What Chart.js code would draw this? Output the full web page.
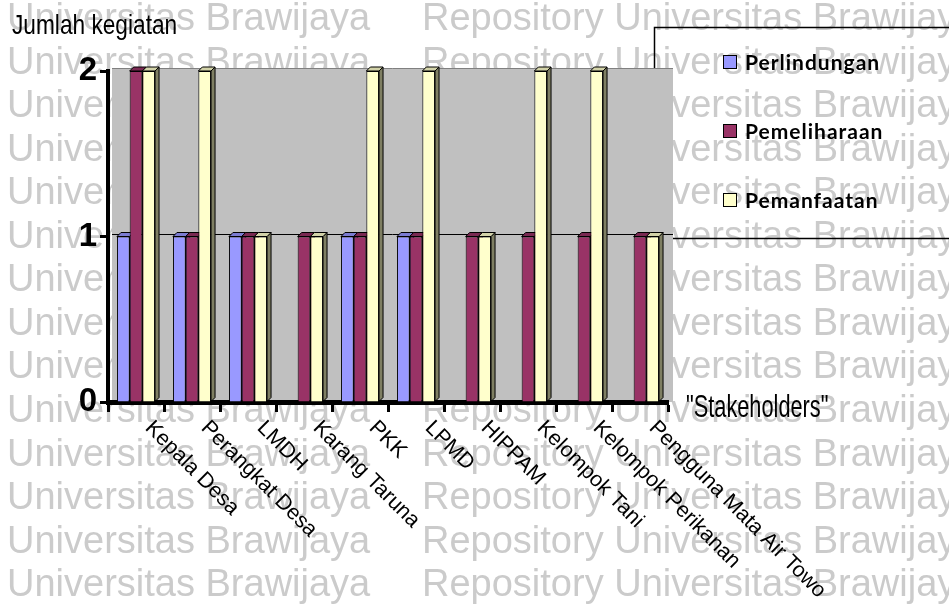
<!DOCTYPE html>
<html>
<head>
<meta charset="utf-8">
<script src="https://cdn.jsdelivr.net/npm/chart.js@4.4.0/dist/chart.umd.min.js"></script>
<style>
  html, body { margin: 0; padding: 0; background: #fff; }
  #wrap { position: relative; width: 949px; height: 608px; }
</style>
</head>
<body>
<div id="wrap"><canvas id="kegiatanChart"></canvas></div>
<script>
const stakeholders = ['Kepala Desa', 'Perangkat Desa', 'LMDH', 'Karang Taruna', 'PKK', 'LPMD',
  'HIPPAM', 'Kelompok Tani', 'Kelompok Perikanan', 'Pengguna Mata Air Towo'];
const perlindungan = [1, 1, 1, 0, 1, 1, 0, 0, 0, 0];
const pemeliharaan = [2, 1, 1, 1, 1, 1, 1, 1, 1, 1];
const pemanfaatan = [2, 2, 1, 1, 2, 2, 1, 2, 2, 1];
const yTicks = [0, 1, 2];

const yTitle = 'Jumlah kegiatan';
const xTitle = '"Stakeholders"';

// 3d look of the old excel chart
const depth = 4;
const topColors = ['#7b7bd1', '#7a2952', '#d2d2a8'];
const sideColors = ['#5c5c9e', '#5a1e3c', '#7f7f63'];
const arial = '"Liberation Sans", Arial, sans-serif';

// no narrow font installed, so squeeze the regular one
function narrowText(ctx, text, x, y, size, squeeze) {
  ctx.save();
  ctx.translate(x, y);
  ctx.scale(squeeze, 1);
  ctx.font = size + 'px ' + arial;
  ctx.fillText(text, 0, 0);
  ctx.restore();
}

const backdrop = {
  id: 'backdrop',
  beforeDraw(chart) {
    const { ctx, chartArea: a, scales: { y } } = chart;
    ctx.save();
    // faint repository watermark
    ctx.font = '38px ' + arial;
    ctx.fillStyle = '#cbcbcb';
    ctx.textBaseline = 'alphabetic';
    for (let k = 0; k < 14; k++) {
      const by = 30 + k * 43.55;
      ctx.fillText('Universitas Brawijaya', 7, by);
      ctx.fillText('Repository Universitas Brawijaya', 422, by);
    }
    // legend frame sits behind the plot wall
    ctx.strokeStyle = '#000';
    ctx.lineWidth = 1.5;
    ctx.strokeRect(654.5, 27.5, 330, 211);

    // back wall
    ctx.fillStyle = '#c0c0c0';
    ctx.fillRect(a.left + depth, a.top - 3, a.width + 1, a.height + 3);
    yTicks.forEach(v => {
      if (v === 0) return;
      const py = Math.round(y.getPixelForValue(v)) - 3 + 0.5;
      ctx.strokeStyle = v === yTicks[yTicks.length - 1] ? '#808080' : '#000';
      ctx.lineWidth = 1;
      ctx.beginPath();
      ctx.moveTo(a.left + depth, py);
      ctx.lineTo(a.right + depth + 1, py);
      ctx.stroke();
    });

    // top and side faces of the bars
    ctx.lineWidth = 1;
    ctx.strokeStyle = '#000';
    chart.data.datasets.forEach((ds, di) => {
      chart.getDatasetMeta(di).data.forEach((el, i) => {
        if (!ds.data[i]) return;
        const x0 = el.x - el.width / 2, x1 = el.x + el.width / 2;
        const yt = el.y, yb = el.base;
        ctx.fillStyle = sideColors[di];
        ctx.beginPath();
        ctx.moveTo(x1, yt);
        ctx.lineTo(x1 + depth, yt - depth);
        ctx.lineTo(x1 + depth, yb - depth);
        ctx.lineTo(x1, yb);
        ctx.closePath();
        ctx.fill();
        ctx.stroke();
        ctx.fillStyle = topColors[di];
        ctx.beginPath();
        ctx.moveTo(x0, yt);
        ctx.lineTo(x0 + depth, yt - depth);
        ctx.lineTo(x1 + depth, yt - depth);
        ctx.lineTo(x1, yt);
        ctx.closePath();
        ctx.fill();
        ctx.stroke();
      });
    });
    ctx.restore();
  },
  afterDraw(chart) {
    const { ctx, chartArea: a, scales: { x } } = chart;
    ctx.save();
    // legend
    const rows = [62, 131, 200];
    ctx.font = 'bold 21px Lato, sans-serif';
    ctx.letterSpacing = '1px';
    ctx.textBaseline = 'middle';
    ctx.lineWidth = 1;
    chart.data.datasets.forEach((ds, i) => {
      const cy = rows[i];
      ctx.fillStyle = ds.backgroundColor;
      ctx.fillRect(723, cy - 7, 13, 13);
      ctx.strokeStyle = '#000';
      ctx.strokeRect(723.5, cy - 6.5, 13, 13);
      ctx.fillStyle = '#000';
      ctx.fillText(ds.label, 745, cy + 1);
    });
    ctx.letterSpacing = '0px';

    // axis titles
    ctx.textBaseline = 'alphabetic';
    narrowText(ctx, yTitle, 12, 34, 28, 0.81);
    narrowText(ctx, xTitle, 686, 417, 32, 0.68);

    // slanted category labels
    ctx.font = '21.5px ' + arial;
    ctx.textAlign = 'left';
    ctx.textBaseline = 'top';
    stakeholders.forEach((lab, i) => {
      const px = x.getPixelForValue(i);
      ctx.save();
      ctx.translate(px + 20, a.bottom + 15);
      ctx.rotate(Math.PI / 4);
      ctx.fillText(lab, 0, 0);
      ctx.restore();
    });
    ctx.restore();
  }
};

function initializeKegiatanChart() {
  const ctx = document.getElementById('kegiatanChart').getContext('2d');
  new Chart(ctx, {
    type: 'bar',
    data: {
      labels: stakeholders,
      datasets: [{
        label: 'Perlindungan',
        data: perlindungan,
        backgroundColor: '#9999ff'
      }, {
        label: 'Pemeliharaan',
        data: pemeliharaan,
        backgroundColor: '#993366'
      }, {
        label: 'Pemanfaatan',
        data: pemanfaatan,
        backgroundColor: '#ffffcc'
      }]
    },
    options: {
      responsive: true,
      maintainAspectRatio: false,
      animation: false,
      devicePixelRatio: 1,
      events: [],
      layout: { padding: { top: 71, right: 281, left: 0, bottom: 0 } },
      datasets: {
        bar: {
          borderColor: '#000',
          borderWidth: 1,
          categoryPercentage: 0.68,
          barPercentage: 1.0
        }
      },
      plugins: {
        legend: { display: false },
        tooltip: { enabled: false }
      },
      scales: {
        x: {
          z: 1,
          grid: {
            display: true,
            drawOnChartArea: false,
            drawTicks: true,
            tickLength: 10,
            tickWidth: 3,
            tickColor: '#000',
            offset: true
          },
          border: { color: '#000', width: 5 },
          ticks: { display: false },
          afterFit: s => { s.height = 206; }
        },
        y: {
          z: 1,
          min: 0,
          max: 2,
          afterBuildTicks: s => { s.ticks = yTicks.map(v => ({ value: v })); },
          grid: {
            drawOnChartArea: false,
            drawTicks: true,
            tickLength: 8,
            tickWidth: 3,
            tickColor: '#000'
          },
          border: { color: '#000', width: 4 },
          ticks: {
            color: '#000',
            padding: 3,
            font: { family: arial, size: 33, weight: 'bold' }
          },
          afterFit: s => { s.width = 108; }
        }
      }
    },
    plugins: [backdrop]
  });
}

document.addEventListener('DOMContentLoaded', initializeKegiatanChart);
</script>
</body>
</html>
